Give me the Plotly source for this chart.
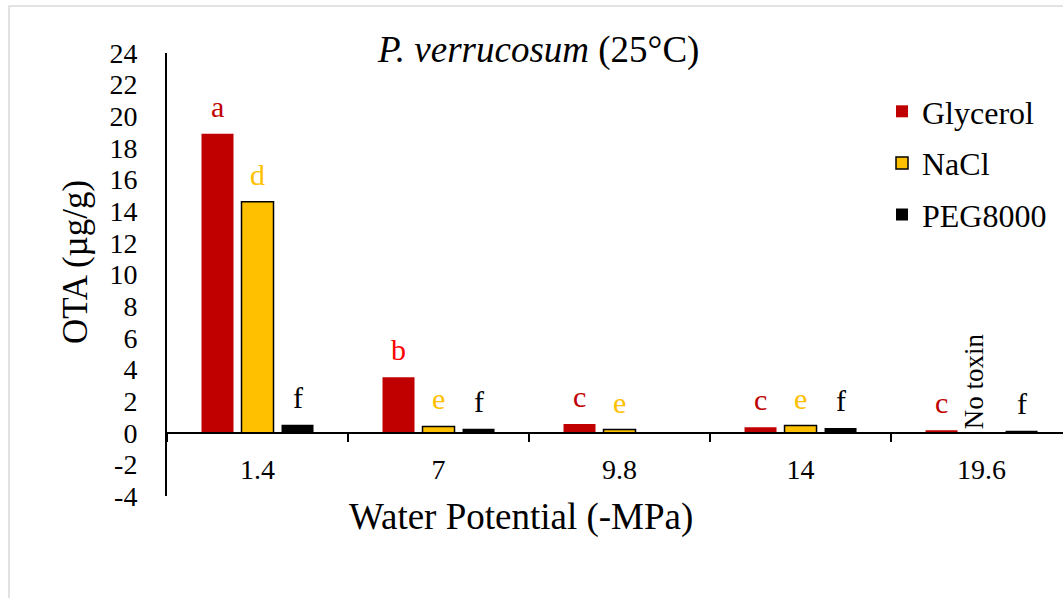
import plotly.graph_objects as go

# Water potential levels (-MPa) and OTA production (µg/g) per osmolyte
potentials = ["1.4", "7", "9.8", "14", "19.6"]
glycerol = [18.9, 3.5, 0.55, 0.35, 0.15]
nacl = [14.6, 0.4, 0.2, 0.45, 0.0]
peg8000 = [0.5, 0.25, 0.0, 0.3, 0.12]

# Significance letters (empty string = no letter)
glycerol_letters = ["a", "b", "c", "c", "c"]
nacl_letters = ["d", "e", "e", "e", ""]
peg_letters = ["f", "f", "", "f", "f"]

y_ticks = list(range(-4, 25, 2))

FONT = "Liberation Serif, Times New Roman, serif"
W, H = 1063, 598
ML, MR, MT, MB = 167, 0, 53, 102
PLOT_W = W - ML - MR
PLOT_H = H - MT - MB
X_RANGE = [-0.5, 4.45]
BARGAP = 0.337
BARGROUPGAP = 0.2

RED = "#C00000"
GOLD = "#FFC000"
BLACK = "#000000"

fig = go.Figure()
fig.add_trace(go.Bar(name="Glycerol", x=potentials, y=glycerol,
                     marker=dict(color=RED, line=dict(width=0)),
                     legendgroup="g", cliponaxis=False))
fig.add_trace(go.Bar(name="NaCl", x=potentials, y=nacl,
                     marker=dict(color=GOLD, line=dict(color=BLACK, width=1.5)),
                     legendgroup="n", cliponaxis=False))
fig.add_trace(go.Bar(name="PEG8000", x=potentials, y=peg8000,
                     marker=dict(color=BLACK, line=dict(width=0)),
                     legendgroup="p", cliponaxis=False))

# Pixel width of one bar slot inside a category group
cat_px = PLOT_W / (X_RANGE[1] - X_RANGE[0])
slot_px = cat_px * (1 - BARGAP) / 3

annotations = []
series = [
    (glycerol, glycerol_letters, [RED, "#FF0000", RED, RED, RED], -1),
    (nacl, nacl_letters, [GOLD] * 5, 0),
    (peg8000, peg_letters, [BLACK] * 5, 1),
]
for values, letters, colors, k in series:
    for i, (v, lab, col) in enumerate(zip(values, letters, colors)):
        if not lab:
            continue
        annotations.append(dict(
            x=i, y=v, xref="x", yref="y", text=lab, showarrow=False,
            xanchor="center", yanchor="bottom", xshift=k * slot_px, yshift=9,
            font=dict(family=FONT, size=30, color=col)))

# Zero-production marker for NaCl at the driest level
annotations.append(dict(
    x=4, y=0, xref="x", yref="y", text="No toxin", showarrow=False,
    textangle=-90, xanchor="center", yanchor="bottom", xshift=-8, yshift=1,
    font=dict(family=FONT, size=27, color=BLACK)))


def px_to_paper_x(px):
    return (px - ML) / PLOT_W


def px_to_paper_y(py):
    return (H - MB - py) / PLOT_H


annotations.append(dict(
    x=px_to_paper_x(538), y=px_to_paper_y(50), xref="paper", yref="paper",
    text="<i>P. verrucosum</i> (25°C)", showarrow=False,
    xanchor="center", yanchor="middle",
    font=dict(family=FONT, size=37, color=BLACK)))
annotations.append(dict(
    x=px_to_paper_x(521), y=px_to_paper_y(517), xref="paper", yref="paper",
    text="Water Potential (-MPa)", showarrow=False,
    xanchor="center", yanchor="middle",
    font=dict(family=FONT, size=37, color=BLACK)))
annotations.append(dict(
    x=px_to_paper_x(75), y=px_to_paper_y(262), xref="paper", yref="paper",
    text="OTA (µg/g)", showarrow=False, textangle=-90,
    xanchor="center", yanchor="middle",
    font=dict(family=FONT, size=35, color=BLACK)))

fig.update_layout(
    width=W, height=H,
    margin=dict(l=ML, r=MR, t=MT, b=MB),
    paper_bgcolor="white", plot_bgcolor="white",
    barmode="group", bargap=BARGAP, bargroupgap=BARGROUPGAP,
    font=dict(family=FONT, color=BLACK),
    showlegend=True,
    legend=dict(x=px_to_paper_x(882), y=px_to_paper_y(84),
                xanchor="left", yanchor="top",
                font=dict(family=FONT, size=32, color=BLACK),
                tracegroupgap=7, bgcolor="rgba(0,0,0,0)"),
    annotations=annotations,
    shapes=[dict(type="rect", xref="paper", yref="paper",
                 x0=px_to_paper_x(9), x1=px_to_paper_x(1070),
                 y0=px_to_paper_y(620), y1=px_to_paper_y(6),
                 line=dict(color="#D9D9D9", width=1.5), layer="below")],
)

fig.update_xaxes(
    type="category", range=X_RANGE,
    showline=True, linecolor=BLACK, linewidth=2,
    anchor="free", position=4 / 28,
    ticks="outside", tickson="boundaries", ticklen=8, tickwidth=2,
    tickcolor=BLACK, ticklabelstandoff=12,
    tickfont=dict(family=FONT, size=28, color=BLACK),
    showgrid=False, zeroline=False,
)
fig.update_yaxes(
    range=[-4, 24], tickvals=y_ticks, ticktext=[str(v) for v in y_ticks],
    showline=True, linecolor=BLACK, linewidth=2,
    ticks="", ticklabelstandoff=22,
    tickfont=dict(family=FONT, size=28, color=BLACK),
    showgrid=False, zeroline=False,
)

fig.write_html("out.html")
